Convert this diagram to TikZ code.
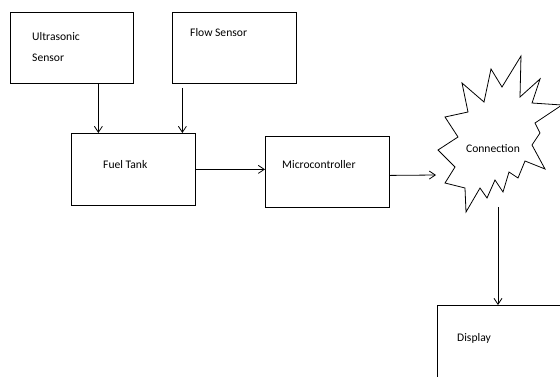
\documentclass[tikz,border=0pt]{standalone}
\usepackage{fontspec}
\setmainfont{Carlito}
\usetikzlibrary{arrows.meta}
\tikzset{
  box/.style={draw, line width=0.8pt, minimum width=#1, minimum height=71pt, inner sep=0pt, anchor=north west},
  lbl/.style={font=\fontsize{11.6}{13}\selectfont, anchor=west, inner sep=0pt},
  arr/.style={-{Straight Barb[length=6pt,width=8pt]}, line width=0.8pt}
}
\begin{document}
\begin{tikzpicture}[x=1pt,y=-1pt]
\useasboundingbox (0,0) rectangle (560,376);
\clip (0,0) rectangle (560,376);
% blocks
\node[box=123pt] (us) at (10,12){};
\node[box=124pt] (fs) at (172,12){};
\node[box=124pt, minimum height=72pt] (ft) at (71,133){};
\node[box=124pt] (mc) at (265,136){};
\node[box=130pt, minimum height=80pt] (dp) at (437,305){};
% texts
\node[lbl] (ust1) at (32,37){Ultrasonic};
\node[lbl] (ust2) at (32,58){Sensor};
\node[lbl] (fst) at (190,33){Flow Sensor};
\node[lbl] (ftt) at (103,165){Fuel Tank};
\node[lbl] (mct) at (282,165){Microcontroller};
\node[lbl] (dpt) at (457,338){Display};
% connection burst
\draw[line width=0.8pt] (438,150) -- (458,137) -- (445,117) -- (468,112) -- (462,83)
  -- (484,102) -- (491,69) -- (502,87) -- (521,56) -- (520,97) -- (540,79)
  -- (532,103) -- (562,105) -- (535,123) -- (540,133) -- (532,145) -- (545,169)
  -- (525,161) -- (518,178) -- (509,172) -- (503,192) -- (495,180) -- (487,198)
  -- (480,188) -- (466,212) -- (465,188) -- (445,183) -- (455,167) -- cycle;
\node[lbl, anchor=center] (cn) at (493,149){Connection};
\coordinate (cl) at (436,175);
\coordinate (cb) at (498,207);
% arrows
\draw[arr] ([xshift=26.5pt]us.south) -- ([xshift=26.5pt]us.south |- ft.north);
\draw[arr] ([xshift=-52pt,yshift=-4pt]fs.south) -- ([xshift=-52pt]fs.south |- ft.north);
\draw[arr] (ft.east) -- (ft.east -| mc.west);
\draw[arr] ([yshift=-3.5pt]mc.east) -- (cl);
\draw[arr] (cb) -- (cb |- dp.north);
\end{tikzpicture}
\end{document}
